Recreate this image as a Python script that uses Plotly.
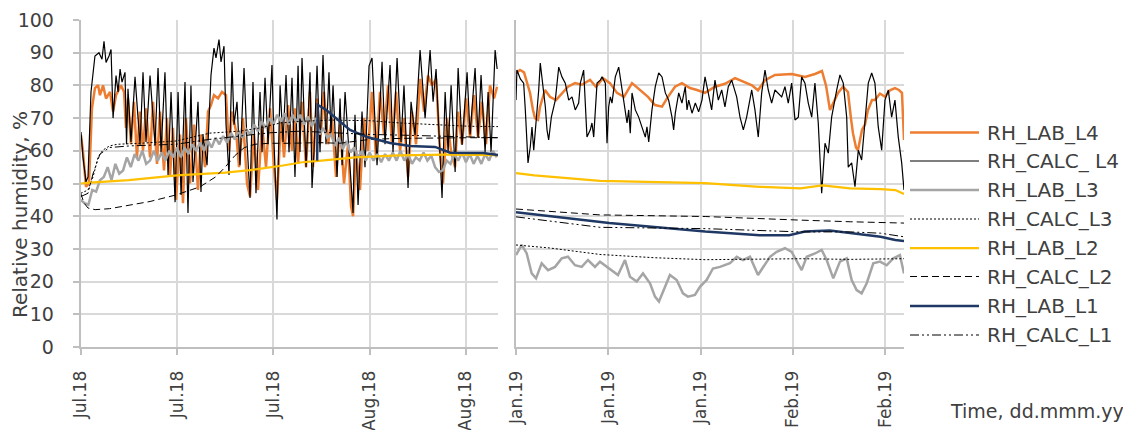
import pandas as pd
import plotly.graph_objects as go

# ---------------- data ----------------
SUMMER_START = "2018-07-05"
WINTER_START = "2019-01-10"
SUMMER_SPAN_DAYS = 43.33
WINTER_SPAN_DAYS = 42.04
TICK_STEP_DAYS = 10
y_ticks = list(range(0, 101, 10))

series_names = ["RH_LAB_L4", "RH_CALC_ L4", "RH_LAB_L3", "RH_CALC_L3",
                "RH_LAB_L2", "RH_CALC_L2", "RH_LAB_L1", "RH_CALC_L1"]

# --- summer period (days since SUMMER_START) ---
lab_l4_s_days = [0.03,0.24,0.55,0.86,1.17,1.48,1.80,2.00,2.32,2.63,
                 3.04,3.36,3.67,3.98,4.18,4.50,4.70,4.91,5.22,5.53,
                 5.84,6.15,6.47,6.78,7.20,7.51,7.92,8.23,8.65,8.96,
                 9.27,9.58,9.90,10.31,10.62,10.93,11.35,11.77,12.18,12.49,
                 12.91,13.22,13.53,13.84,14.26,14.67,15.09,15.40,15.71,16.13,
                 16.44,16.85,17.27,17.58,17.99,18.41,18.83,19.24,19.66,20.07,
                 20.38,20.80,21.11,21.53,21.94,22.25,22.57,22.98,23.40,23.81,
                 24.12,24.54,24.85,25.26,25.68,26.09,26.51,26.93,27.34,27.76,
                 28.07,28.28,28.59,29.00,29.42,29.83,30.25,30.66,31.08,31.49,
                 31.91,32.33,32.74,33.16,33.57,33.99,34.40,34.82,35.24,35.65,
                 36.06,36.48,36.90,37.31,37.62,38.04,38.45,38.87,39.18,39.59,
                 40.01,40.43,40.84,41.26,41.67,42.09,42.50,42.92,43.23]
lab_l4_s_rh = [64.8,59.6,49,50,73,79.2,80.1,77,80,76,
               78,72,77,79,80,78,67,76,62,75,
               58,72,60,73,58,75,56,72,54,70,
               52,67,45,65,44,70,50,68,48,65,
               55,72,74,77,76,78,77,60,72,66,
               55,70,50,46,65,48,68,55,73,55,
               45,70,58,74,60,73,56,75,55,78,
               55,76,62,78,62,70,52,68,50,62,
               43,40,60,48,70,60,78,58,78,65,
               80,62,78,60,70,52,72,62,82,72,
               83,80,82,60,50,70,60,55,72,62,
               76,64,77,64,75,62,80,76,79.6]

calc_l4_s_days = [0.03,0.24,0.55,0.76,1.07,1.48,1.90,2.21,2.42,2.63,
                  2.94,3.15,3.36,3.67,3.88,4.09,4.29,4.60,4.76,4.91,
                  5.22,5.64,6.16,6.47,6.78,7.20,7.72,8.03,8.34,8.75,
                  9.07,9.38,9.80,10.11,10.42,10.83,11.14,11.45,11.66,12.18,
                  12.49,12.70,13.12,13.53,13.84,14.05,14.36,14.57,14.88,15.09,
                  15.40,15.71,15.92,16.23,16.54,16.96,17.27,17.58,17.89,18.20,
                  18.62,18.83,19.14,19.45,19.86,20.07,20.38,20.70,21.01,21.32,
                  21.63,21.94,22.25,22.57,22.77,22.98,23.40,23.81,24.02,24.23,
                  24.54,24.85,25.16,25.47,25.78,25.99,26.20,26.62,26.93,27.14,
                  27.45,27.86,28.28,28.48,28.80,29.21,29.52,29.94,30.25,30.77,
                  31.29,31.60,32.12,32.43,32.85,33.26,33.57,33.99,34.30,34.72,
                  35.24,35.76,36.28,36.59,36.90,37.21,37.52,37.84,38.15,38.46,
                  38.88,39.19,39.60,40.12,40.43,40.95,41.26,41.57,41.99,42.30,
                  42.61,43.03,43.24]
calc_l4_s_rh = [65.7,58,50.5,52,78,89,90,88,93.5,87,
                89,91,70,83,78,85,81,84,62,79,
                62.7,82.6,61.8,84,62.7,83,61.8,85.3,59.6,84,
                52.6,78,44.3,78,46.5,81,41,80,50.5,75,
                47.4,64.8,55.6,83.2,91.4,88.4,94,87.2,92,68,
                52.6,87.2,68,75,55.6,85.3,62.7,45.6,81,47,
                78,59.6,82.3,62,86.2,62.7,39,80,62.7,83.2,
                59.6,82.3,52,86,59.6,88.4,55,84,48.6,60,
                86,59.6,89.3,62,84,65,80,52,76,55.6,
                78,60,41,71,43.4,72,55,86,88.4,55.6,
                87.2,62,86.2,59.6,88.4,62.7,80,48.6,75,64.8,
                90.8,70,90.8,75,85,65,45.6,78,59.6,80,
                53.5,85.3,61.8,84,65,85.3,64,83.2,59.6,78,
                59.6,90.8,85]

# gray RH_LAB_L3 logged every 0.4 day
lab_l3_s_step_days = 0.4
lab_l3_s_rh = [45,44,43.5,48,47.5,51,52,55,51,56,
               53,54,58,55,59,57,60,56,57,60,
               57,59.5,57,60,58,61,58,61,59,62,
               60,62.5,60,63,61,64,62,64.5,62.5,65.5,
               63.5,66,64,66.5,65,68,66,69,67,70,
               68,71,69,71.5,68,71,69,71,68,70.5,
               67.5,70,65,67,64,65,61.5,64,60.5,63,
               59.5,61,58,60,57,59.5,57,59,56.5,59,
               57,59.5,57,60,57,59,56,58,57,59.5,
               57,58.5,55,53.5,54,57,56,59,57,59.5,
               56.5,59,56,58.5,56,59,57,60,58]

calc_l3_s_days = [0,0.76,1.28,1.8,2.3,3,3.8,6.2,9.9,13.4,16.5,18.6,20.7,22.8,25.9,30.05,33.2,37.3,40.4,43.33]
calc_l3_s_rh = [47,48,52,58,60.2,61.5,62,62.3,63,65.4,66,67,68.5,69,69.4,69.2,68.5,68,67.5,67.4]

lab_l2_s_days = [0,1,5,10,15,17.6,21,23,25,28.5,33,38,43.33]
lab_l2_s_rh = [50,50.3,51,52.5,53.3,54.1,55.5,56.5,57,58,58.6,58.8,58.7]

calc_l2_s_days = [0,0.35,0.76,1.5,3,5.1,7.2,9.9,12.4,14,15,16,17,18.1,19.6,21.7,24.8,26.9,30.05,33.2,37.3,40.4,43.33]
calc_l2_s_rh = [47,44,42.5,42,42.3,43.5,44.5,46.5,49,52,55,58.5,61,62,62.3,62.3,62.5,62.3,63.5,63.8,64,64,64]

lab_l1_s_days = [24.55,24.62,25.5,27.96,29.73,32.12,34.2,36.8,38.36,41.79,43.33]
lab_l1_s_rh = [57,74,72.5,66.4,64.2,62.4,61.5,61.2,59.4,59.3,58.7]

calc_l1_s_days = [0,0.76,1.28,2,3,5.1,9.9,13.4,16.5,19.6,22.8,25.9,30.05,33.2,37.3,43.33]
calc_l1_s_rh = [46,47,53,59,61,61.5,62,63.5,64.5,65.5,66,65.5,65,64.8,64.5,64]

# --- winter period (days since WINTER_START) ---
lab_l4_w_days = [0,0.43,0.87,1.19,1.52,1.84,2.06,2.38,2.60,3.14,
                 3.68,4.33,4.98,5.63,6.39,7.15,8.02,8.67,9.43,10.18,
                 10.94,11.70,12.57,13.43,14.30,15.06,15.82,16.47,17.23,17.98,
                 18.85,19.61,20.48,21.56,22.64,23.73,24.81,25.57,26.22,26.98,
                 28.06,29.90,31.31,32.39,33.15,33.59,34.02,34.45,34.89,35.43,
                 35.97,36.29,36.51,36.84,37.05,37.49,37.81,38.14,38.57,38.89,
                 39.44,39.98,40.52,41.06,41.49,41.82,42.04]
lab_l4_w_rh = [83.8,84.7,84,80.7,77.7,72.5,70,69.5,73.4,78.6,
               76.5,75.5,77.7,79.6,80.7,80.2,81.7,79.6,82.2,80.7,
               77.7,76.5,80.7,78.6,76.5,74,73.5,76.5,79.6,80.7,
               79.2,78.6,77.7,79.6,80.5,82.2,81,80,78.5,81.6,
               83.2,83.5,82.6,83.5,84.4,80,72.5,75,77.7,79.6,
               78,70,65.4,61,60.2,66.4,68,72.5,75.5,75.5,
               77.5,76.5,78.5,79.2,78.6,77.7,63.3]

calc_l4_w_days = [0,0.1,0.47,0.83,1.01,1.19,1.30,1.55,1.73,1.92,
                  2.09,2.46,2.63,2.89,3.18,3.36,3.54,3.83,4.08,4.26,
                  4.63,4.98,5.34,5.71,6.07,6.42,6.79,6.97,7.33,7.51,
                  7.69,8.05,8.23,8.42,8.78,9.13,9.32,9.68,9.86,10.04,
                  10.22,10.40,10.76,11.13,11.48,11.84,12.03,12.21,12.38,12.57,
                  12.93,13.29,13.65,14.01,14.19,14.38,14.73,15.09,15.46,15.82,
                  16.18,16.54,16.90,17.08,17.26,17.63,17.98,18.34,18.53,18.71,
                  19.07,19.43,19.79,20.15,20.48,20.84,21.20,21.56,21.92,22.29,
                  22.64,23.00,23.37,23.91,24.27,24.63,24.99,25.54,25.89,26.25,
                  26.62,26.98,27.33,27.70,28.06,28.79,29.14,29.50,29.87,30.23,
                  30.59,30.95,31.31,31.67,32.04,32.39,32.75,33.12,33.48,33.84,
                  34.20,34.75,35.10,35.46,35.83,36.00,36.37,36.73,37.09,37.45,
                  37.81,38.17,38.54,38.89,39.25,39.62,39.98,40.34,40.70,41.06,
                  41.42,41.79,42.04]
calc_l4_w_rh = [75.5,84.7,82,80.7,72.5,62.3,56.3,61.3,67.3,60.2,
                65.4,78.6,86.8,80.7,73.4,66.4,63.3,70.3,73.4,75.5,
                85.6,82.6,80.7,75.5,76.5,72.5,74.6,80.7,84.7,75.5,
                64.2,66.4,68.5,64.2,80.7,81.6,82.6,80.7,62.3,73.4,
                76.5,74.6,82.6,85.6,78.6,72.5,68.5,72.5,65.4,77.7,
                72.5,70.3,67.3,64.2,67.3,62.7,72.5,79.6,83.8,82.6,
                77.7,75.5,70.3,66.4,71.5,77.7,74.6,79.6,72.5,75.5,
                71.5,74.6,71.9,75.5,82.6,77.7,72.5,81.6,75.5,78.6,
                73.4,79.6,81.6,76.5,70.3,66.4,70.3,78.6,72.5,64.2,
                77.7,84.7,78.6,74.6,78.6,76.5,79.6,74.6,80.7,69.4,
                70.3,82.6,80.7,74.6,70.3,80.7,68.5,47,62.3,59.3,
                70.3,78.6,83.2,80.7,70.3,55,56.3,49,60.2,57.2,
                70.3,80.7,83.8,80.7,67.3,60.2,75.5,78.6,70.3,75.5,
                64.2,56.3,48]

lab_l3_w_days = [0,0.62,1.16,1.70,2.17,2.78,3.47,4.23,4.95,5.63,
                 6.39,7.12,7.80,8.56,9.10,9.83,10.51,11.05,11.81,12.35,
                 13.08,13.76,14.52,15.06,15.49,16.14,16.68,17.41,18.09,18.63,
                 19.39,19.93,20.66,21.34,22.10,23.18,23.91,24.59,25.35,26.22,
                 26.76,27.52,28.24,29.14,29.87,30.41,30.95,31.50,32.39,33.12,
                 33.66,34.38,35.10,35.83,36.37,36.91,37.45,38.00,38.71,39.44,
                 40.16,40.88,41.60,42.04]
lab_l3_w_rh = [28.1,31.2,28.6,22.5,21,25.6,23.5,24.5,27.1,27.6,
               25,24.5,26.6,24.5,26.1,24.5,23,22,26.6,21.5,
               20,22.5,19.5,15.4,13.9,18.4,22,20.5,16.4,15.4,
               15.9,18.4,20.5,24,24.5,25.6,27.6,26.6,27.6,22,
               24.5,27.6,29.1,30.2,29.1,26.1,23.5,27.6,28.6,29.7,
               26.6,21,26.1,27.1,20.5,17.4,16.4,19.5,25.6,26.1,
               25,27.1,28.1,22.5]

calc_l3_w_days = [0,3.6,9.1,15,20.5,30.8,36.2,42.04]
calc_l3_w_rh = [31.2,30.3,28.3,27.3,26.7,27,26.8,27]

lab_l2_w_days = [0,2,9.1,20.5,26.4,30.8,33.2,36.2,39.5,41.1,42.04]
lab_l2_w_rh = [53.2,52.5,50.8,50.1,49,48.5,49.4,48.5,48.3,48,46.8]

calc_l2_w_days = [0,9.1,20.5,26.4,30.8,36.2,42.04]
calc_l2_w_rh = [42.2,40.4,39.9,39.4,38.8,38.3,37.9]

lab_l1_w_days = [0,10.1,20.5,26.4,29.6,31.3,34,36.2,39.5,41.1,42.04]
lab_l1_w_rh = [41.2,37.9,35.3,34.2,34.2,35.3,35.6,34.8,33.7,32.7,32.4]

calc_l1_w_days = [0,9.1,20.5,30.8,36.2,39.5,42.04]
calc_l1_w_rh = [39.8,36.6,36.2,35.2,35.2,34.8,33.7]

# ---------------- helpers ----------------
s0 = pd.Timestamp(SUMMER_START)
w0 = pd.Timestamp(WINTER_START)


def to_time(start, days):
    return [start + pd.Timedelta(days=d) for d in days]


lab_l3_s_days = [i * lab_l3_s_step_days for i in range(len(lab_l3_s_rh))]

summer = [
    (lab_l4_s_days, lab_l4_s_rh), (calc_l4_s_days, calc_l4_s_rh),
    (lab_l3_s_days, lab_l3_s_rh), (calc_l3_s_days, calc_l3_s_rh),
    (lab_l2_s_days, lab_l2_s_rh), (calc_l2_s_days, calc_l2_s_rh),
    (lab_l1_s_days, lab_l1_s_rh), (calc_l1_s_days, calc_l1_s_rh),
]
winter = [
    (lab_l4_w_days, lab_l4_w_rh), (calc_l4_w_days, calc_l4_w_rh),
    (lab_l3_w_days, lab_l3_w_rh), (calc_l3_w_days, calc_l3_w_rh),
    (lab_l2_w_days, lab_l2_w_rh), (calc_l2_w_days, calc_l2_w_rh),
    (lab_l1_w_days, lab_l1_w_rh), (calc_l1_w_days, calc_l1_w_rh),
]

styles = [
    dict(color="#ED7D31", width=2.5),
    dict(color="#000000", width=1.2),
    dict(color="#A5A5A5", width=2.5),
    dict(color="#000000", width=1, dash="2px,2px"),
    dict(color="#FFC000", width=2.25),
    dict(color="#000000", width=1, dash="7px,4px"),
    dict(color="#1F3864", width=2.5),
    dict(color="#000000", width=1, dash="9px,3px,2px,3px,2px,3px"),
]

# page layout (the page body adds an 8px offset around the figure)
OFF = 8
PAGE_W, PAGE_H = 1131, 430
W, H = PAGE_W - OFF, PAGE_H - OFF
PLOT_TOP, PLOT_BOTTOM = 20, 347          # page pixels of y = 100 and y = 0


def px_x(x):
    return (x - OFF) / W


def px_y(y):
    return (PLOT_BOTTOM - y) / (PLOT_BOTTOM - PLOT_TOP)


fig = go.Figure()
for i, name in enumerate(series_names):
    d, v = summer[i]
    fig.add_trace(go.Scatter(x=to_time(s0, d), y=v, mode="lines", name=name,
                             line=styles[i], xaxis="x", yaxis="y",
                             legendgroup=name, showlegend=False))
    d, v = winter[i]
    fig.add_trace(go.Scatter(x=to_time(w0, d), y=v, mode="lines", name=name,
                             line=styles[i], xaxis="x2", yaxis="y2",
                             legendgroup=name, showlegend=False))

FONT = "DejaVu Sans"
TXT = "#404040"
GRID = "#D9D9D9"
AX = "#BFBFBF"

common_x = dict(type="date", dtick=TICK_STEP_DAYS * 86400000, tickformat="%b.%y",
                tickangle=-90, showgrid=True, gridcolor=GRID, gridwidth=2,
                showline=True, linecolor=AX, linewidth=2, ticks="outside",
                ticklen=6, tickwidth=2, tickcolor=AX, zeroline=False,
                tickfont=dict(family=FONT, size=17, color=TXT),
                ticklabelstandoff=9)
common_y = dict(range=[0, 100], tickvals=y_ticks, showgrid=True, gridcolor=GRID,
                gridwidth=2, showline=True, linecolor=AX, linewidth=2,
                zeroline=False, ticks="outside", ticklen=6, tickwidth=2,
                tickcolor=AX, tickfont=dict(family=FONT, size=19, color=TXT))

fig.update_layout(
    width=W, height=H,
    margin=dict(l=0, r=0, t=PLOT_TOP - OFF, b=H - (PLOT_BOTTOM - OFF),
                autoexpand=False),
    paper_bgcolor="white", plot_bgcolor="white",
    showlegend=False,
    xaxis=dict(common_x, domain=[px_x(80.7), px_x(498)], anchor="y", tick0=s0,
               range=[s0, s0 + pd.Timedelta(days=SUMMER_SPAN_DAYS)]),
    xaxis2=dict(common_x, domain=[px_x(516), px_x(904)], anchor="y2", tick0=w0,
                range=[w0, w0 + pd.Timedelta(days=WINTER_SPAN_DAYS)]),
    yaxis=dict(common_y, anchor="x", ticklabelstandoff=15),
    yaxis2=dict(common_y, anchor="x2", showticklabels=False, ticks=""),
)

# y-axis title
fig.add_annotation(text="Relative humidity, %", xref="paper", yref="paper",
                   x=px_x(20), y=px_y(215), textangle=-90, showarrow=False,
                   xanchor="center", yanchor="middle",
                   font=dict(family=FONT, size=20, color=TXT))

# legend drawn at the right side
legend_rows = [132.5, 161, 190, 219, 248, 276.5, 306, 335]
for i, name in enumerate(series_names):
    yy = px_y(legend_rows[i])
    fig.add_shape(type="line", xref="paper", yref="paper",
                  x0=px_x(910), x1=px_x(979), y0=yy, y1=yy, line=dict(styles[i]))
    fig.add_annotation(text=name, xref="paper", yref="paper", x=px_x(985), y=yy,
                       xanchor="left", yanchor="middle", showarrow=False,
                       font=dict(family=FONT, size=20, color=TXT))

fig.add_annotation(text="Time, dd.mmm.yy", xref="paper", yref="paper",
                   x=px_x(1126), y=px_y(411), xanchor="right", yanchor="middle",
                   showarrow=False, font=dict(family=FONT, size=19, color=TXT))

fig.write_html("out.html")
